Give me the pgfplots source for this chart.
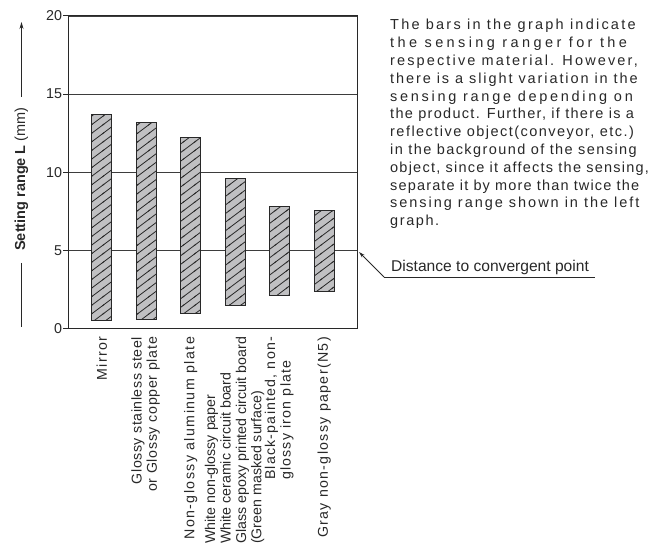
\documentclass[border=0pt]{standalone}
\usepackage{fontspec}
\setmainfont{Liberation Sans}
\usepackage{pgfplots}
\pgfplotsset{compat=1.18}
\usetikzlibrary{patterns,arrows.meta}
\newcommand\ls[2]{{\addfontfeature{LetterSpace=#1}#2}}
\definecolor{barfill}{RGB}{192,192,194}
\definecolor{ink}{RGB}{40,40,40}
\pgfdeclarepatternformonly{hatchA}{\pgfqpoint{-1pt}{-1pt}}{\pgfqpoint{12.5pt}{9.6pt}}{\pgfqpoint{11.47pt}{8.6pt}}{%
  \pgfsetlinewidth{0.8pt}%
  \pgfpathmoveto{\pgfqpoint{-1pt}{-0.75pt}}%
  \pgfpathlineto{\pgfqpoint{12.47pt}{9.35pt}}%
  \pgfusepath{stroke}}
\begin{document}
\begin{tikzpicture}
\useasboundingbox (0pt,0pt) rectangle (660pt,546pt);
\begin{axis}[
 at={(68.3pt,217.7pt)}, anchor=south west, scale only axis,
 width=289.4pt, height=312.3pt,
 xmin=-0.75, xmax=5.75, ymin=0, ymax=20,
 ybar stacked, bar width=20pt,
 xtick={0,1,2,3,4,5},
 xticklabels={
  {\ls{9}{Mirror}},
  {\begin{tabular}{@{}r@{}}\ls{4}{Glossy stainless steel}\\\ls{5}{or Glossy copper plate}\end{tabular}},
  {\ls{10}{Non-glossy aluminum plate}},
  {\begin{tabular}{@{}l@{}}White non-glossy paper\\White ceramic circuit board\\Glass epoxy printed circuit board\\(Green masked surface)\end{tabular}},
  {\begin{tabular}{@{}l@{}}\ls{8.5}{Black-painted, non-}\\\ls{8.5}{glossy iron plate}\end{tabular}},
  {\ls{9.5}{Gray non-glossy paper(N5)}}
 },
 ytick={0,5,10,15,20}, yticklabels={0,5,10,15,20},
 ymajorgrids, grid style={ink!90, line width=1.1pt},
 axis line style={ink, line width=1pt},
 tick align=outside, ytick pos=left, major tick length=5pt,
 xtick style={draw=none},
 ytick style={ink, line width=1pt},
 yticklabel style={inner sep=1pt, font=\fontsize{14.3}{15.3}\selectfont, text=ink},
 xticklabel style={rotate=90, anchor=east, inner sep=0pt, font=\fontsize{14.2}{15.4}\selectfont, text=ink},
 xticklabel shift=3.5pt,
]
\addplot[draw=none, fill=none] coordinates {(0,0.5) (1,0.58) (2,0.95) (3,1.45) (4,2.1) (5,2.35)};
\addplot[draw=ink, line width=1pt, fill=barfill,
  postaction={pattern=hatchA, pattern color=ink}]
  coordinates {(0,13.2) (1,12.57) (2,11.3) (3,8.17) (4,5.7) (5,5.18)};
\end{axis}
% y label with arrow lines
\node[rotate=90, inner sep=0pt, font=\fontsize{14.5}{16}\selectfont, text=ink] at (21.5pt,367pt) {\textbf{Setting range L} (mm)};
\draw[ink, line width=0.9pt] (21.5pt,283pt) -- (21.5pt,219pt);
\draw[ink, line width=0.9pt, -{Stealth[length=7pt,width=4pt]}] (21.5pt,449pt) -- (21.5pt,524pt);
% annotation
\draw[ink, line width=0.8pt, -{Stealth[length=6pt,width=3.5pt]}] (384pt,269pt) -- (359pt,294pt);
\draw[ink, line width=0.8pt] (384pt,269pt) -- (595pt,269pt);
\node[anchor=base west, inner sep=0pt, font=\fontsize{15.6}{17}\selectfont, text=ink] at (391pt,274pt) {Distance to convergent point};
% paragraph
\begin{scope}[every node/.style={anchor=base west, inner sep=0pt, font=\fontsize{14.5}{16}\selectfont, text=ink}]
\node at (390pt,516pt) {\ls{15.4}{The bars in the graph indicate}};
\node at (390pt,498.2pt) {\ls{23.5}{the sensing ranger for the}};
\node at (390pt,480.4pt) {\ls{14.7}{respective material. However,}};
\node at (390pt,462.6pt) {\ls{13.2}{there is a slight variation in the}};
\node at (390pt,444.8pt) {\ls{18.7}{sensing range depending on}};
\node at (390pt,427pt) {\ls{9}{the product. Further, if there is a}};
\node at (390pt,409.2pt) {\ls{10.1}{reflective object(conveyor, etc.)}};
\node at (390pt,391.4pt) {\ls{9.8}{in the background of the sensing}};
\node at (390pt,373.6pt) {\ls{8.5}{object, since it affects the sensing,}};
\node at (390pt,355.8pt) {\ls{8}{separate it by more than twice the}};
\node at (390pt,338pt) {\ls{13.6}{sensing range shown in the left}};
\node at (390pt,320.2pt) {\ls{11}{graph.}};
\end{scope}
\end{tikzpicture}
\end{document}
